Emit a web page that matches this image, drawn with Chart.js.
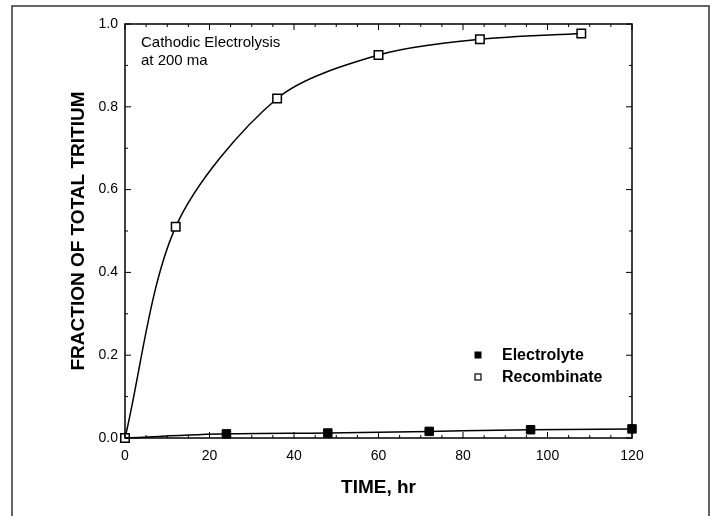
<!DOCTYPE html>
<html>
<head>
<meta charset="utf-8">
<script src="https://cdn.jsdelivr.net/npm/chart.js@4/dist/chart.umd.min.js"></script>
<style>
  html, body { margin: 0; padding: 0; background: #fff; }
  #wrap { width: 720px; height: 516px; }
</style>
</head>
<body>
<div id="wrap"><canvas id="grafica" width="720" height="516"></canvas></div>
<script>
// datos
const tiempoRecomb = [0, 12, 36, 60, 84, 108];
const fraccionRecomb = [0.0, 0.51, 0.82, 0.925, 0.963, 0.977];
const tiempoElectro = [0, 24, 48, 72, 96, 120];
const fraccionElectro = [0.0, 0.01, 0.012, 0.016, 0.02, 0.022];

const xTicks = [0, 20, 40, 60, 80, 100, 120];
const yTicks = [0.0, 0.2, 0.4, 0.6, 0.8, 1.0];
const xMinorStep = 5;
const yMinorStep = 0.1;

const nombres = ["Electrolyte", "Recombinate"];
const nota = ["Cathodic Electrolysis", "at 200 ma"];

const fuente = "'Liberation Sans', Arial, Helvetica, sans-serif";

function toPoints(xs, ys) {
    return xs.map((x, i) => ({ x: x, y: ys[i] }));
}

// marco, ticks hacia dentro, nota y leyenda
const marcoPlugin = {
    id: 'marco',
    beforeDraw(chart) {
        const ctx = chart.ctx;
        ctx.save();
        ctx.strokeStyle = '#333';
        ctx.lineWidth = 1.5;
        ctx.beginPath();
        ctx.moveTo(12, 520);
        ctx.lineTo(12, 6);
        ctx.lineTo(709, 6);
        ctx.lineTo(709, 520);
        ctx.stroke();
        ctx.restore();
    },
    afterDraw(chart) {
        const ctx = chart.ctx;
        const a = chart.chartArea;
        const xs = chart.scales.x;
        const ys = chart.scales.y;
        ctx.save();
        ctx.strokeStyle = '#000';
        ctx.lineWidth = 1.5;
        ctx.strokeRect(a.left, a.top, a.right - a.left, a.bottom - a.top);

        ctx.lineWidth = 1;
        ctx.beginPath();
        for (let v = xs.min; v <= xs.max + 1e-9; v += xMinorStep) {
            const px = xs.getPixelForValue(v);
            const len = xTicks.includes(v) ? 6 : 3;
            ctx.moveTo(px, a.bottom); ctx.lineTo(px, a.bottom - len);
            ctx.moveTo(px, a.top); ctx.lineTo(px, a.top + len);
        }
        for (let k = 0; k <= Math.round((ys.max - ys.min) / yMinorStep); k++) {
            const v = ys.min + k * yMinorStep;
            const py = ys.getPixelForValue(v);
            const len = (k % 2 === 0) ? 6 : 3;
            ctx.moveTo(a.left, py); ctx.lineTo(a.left + len, py);
            ctx.moveTo(a.right, py); ctx.lineTo(a.right - len, py);
        }
        ctx.stroke();

        // nota
        ctx.fillStyle = '#000';
        ctx.font = "15px " + fuente;
        ctx.textBaseline = 'alphabetic';
        ctx.textAlign = 'left';
        ctx.fillText(nota[0], 141, 47);
        ctx.fillText(nota[1], 141, 65);

        // leyenda
        const filas = [355, 377];
        ctx.font = "bold 16px " + fuente;
        ctx.textBaseline = 'middle';
        filas.forEach((y, i) => {
            ctx.lineWidth = 1.2;
            if (i === 0) {
                ctx.fillRect(474.5, y - 3.5, 7, 7);
            } else {
                ctx.strokeRect(475, y - 3, 6, 6);
            }
            ctx.fillText(nombres[i], 502, y + 1);
        });
        ctx.restore();
    }
};

const ctx = document.getElementById('grafica').getContext('2d');

const chartConfig = {
    type: 'scatter',
    data: {
        datasets: [
            {
                label: nombres[0],
                data: toPoints(tiempoElectro, fraccionElectro),
                showLine: true,
                cubicInterpolationMode: 'monotone',
                borderColor: '#000',
                borderWidth: 1.5,
                backgroundColor: '#000',
                pointStyle: 'rect',
                pointRadius: c => (c.dataIndex === 0 ? 0 : 6),
                pointBorderWidth: 1,
                pointBorderColor: '#000',
                pointBackgroundColor: '#000',
                clip: false
            },
            {
                label: nombres[1],
                data: toPoints(tiempoRecomb, fraccionRecomb),
                showLine: true,
                tension: 0.3,
                borderColor: '#000',
                borderWidth: 1.5,
                backgroundColor: '#fff',
                pointStyle: 'rect',
                pointRadius: 6,
                pointBorderWidth: 1.5,
                pointBorderColor: '#000',
                pointBackgroundColor: '#fff',
                clip: false
            }
        ]
    },
    options: {
        responsive: false,
        animation: false,
        layout: { padding: { left: 0, top: 24, right: 88, bottom: 0 } },
        plugins: {
            legend: { display: false },
            tooltip: { enabled: false }
        },
        scales: {
            x: {
                type: 'linear',
                min: 0,
                max: 120,
                afterBuildTicks: s => { s.ticks = xTicks.map(v => ({ value: v })); },
                afterFit: s => { s.height = 78; },
                grid: { display: false, drawTicks: false },
                border: { display: false },
                ticks: {
                    color: '#000',
                    padding: 10,
                    maxRotation: 0,
                    font: { family: fuente, size: 14 }
                },
                title: {
                    display: true,
                    text: 'TIME, hr',
                    color: '#000',
                    font: { family: fuente, size: 19, weight: 'bold' },
                    padding: { top: 0, bottom: 17 }
                }
            },
            y: {
                type: 'linear',
                min: 0,
                max: 1.0,
                afterBuildTicks: s => { s.ticks = yTicks.map(v => ({ value: v })); },
                afterFit: s => { s.width = 125; },
                grid: { display: false, drawTicks: false },
                border: { display: false },
                ticks: {
                    color: '#000',
                    padding: 7,
                    font: { family: fuente, size: 14 },
                    callback: v => Number(v).toFixed(1)
                },
                title: {
                    display: true,
                    text: 'FRACTION OF TOTAL TRITIUM',
                    color: '#000',
                    font: { family: fuente, size: 19, weight: 'bold' },
                    padding: { top: 67, bottom: 0 }
                }
            }
        }
    },
    plugins: [marcoPlugin]
};

new Chart(ctx, chartConfig);
</script>
</body>
</html>
